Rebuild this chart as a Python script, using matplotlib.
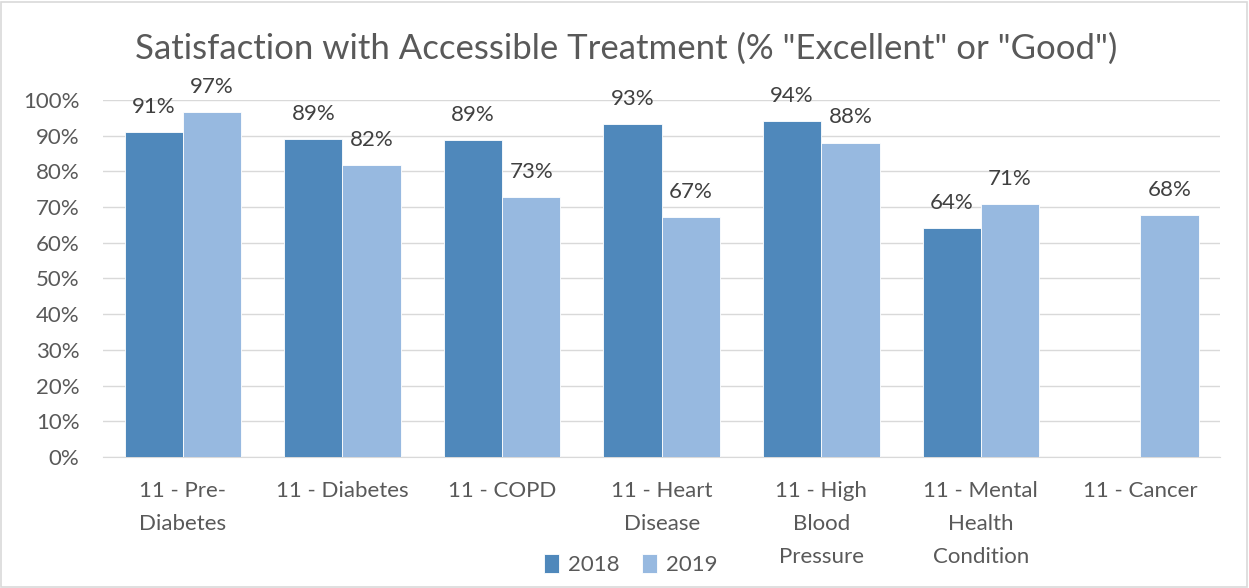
import matplotlib
matplotlib.use("Agg")
import matplotlib.pyplot as plt
from matplotlib.patches import Rectangle
import numpy as np

categories = ["11 - Pre-\nDiabetes", "11 - Diabetes", "11 - COPD", "11 - Heart\nDisease",
              "11 - High\nBlood\nPressure", "11 - Mental\nHealth\nCondition", "11 - Cancer"]
series_names = ["2018", "2019"]
values_2018 = [91.0, 89.1, 88.8, 93.3, 94.1, 64.1, None]
values_2019 = [96.6, 81.8, 72.8, 67.2, 88.0, 70.9, 67.8]
yticks = list(range(0, 101, 10))

colors = ["#4F88BB", "#97B9E0"]
plt.rcParams['font.family'] = ['Lato', 'DejaVu Sans']

fig = plt.figure(figsize=(12.49, 5.88), dpi=100)
ax = fig.add_axes([0.0825, 0.2228, 0.8945, 0.6072])

x = np.arange(len(categories))
w = 0.365
for i, (vals, name, c) in enumerate(zip([values_2018, values_2019], series_names, colors)):
    xs = [xi + (i - 0.5) * w for xi, v in zip(x, vals) if v is not None]
    vs = [v for v in vals if v is not None]
    ax.bar(xs, vs, width=w, color=c, label=name, zorder=3, edgecolor="white", linewidth=0.6)
    for xb, v in zip(xs, vs):
        ax.text(xb, v + 4.3, f"{round(v):.0f}%", ha="center", va="bottom", fontsize=16,
                color="#404040", clip_on=False)

ax.set_xlim(-0.5, len(categories) - 0.5)
ax.set_ylim(0, 100)
ax.set_yticks(yticks)
ax.set_yticklabels([f"{t}%" for t in yticks], fontsize=16, color="#595959")
ax.set_xticks(x)
ax.set_xticklabels(categories, fontsize=16, color="#595959", linespacing=1.82)
ax.tick_params(axis="both", length=0)
ax.tick_params(axis="x", pad=17)
ax.tick_params(axis="y", pad=17)
ax.grid(axis="y", color="#D9D9D9", linewidth=1, zorder=0)
for s in ["top", "right", "left"]:
    ax.spines[s].set_visible(False)
ax.spines["bottom"].set_color("#D9D9D9")

fig.suptitle('Satisfaction with Accessible Treatment (% "Excellent" or "Good")',
             x=0.501, y=0.944, fontsize=25, color="#595959")

leg = fig.legend(loc="lower center", bbox_to_anchor=(0.505, -0.012), ncol=2, frameon=False,
                 fontsize=16, handlelength=0.7, handleheight=0.9, handletextpad=0.4,
                 columnspacing=1.0, labelcolor="#595959")

fig.patches.append(Rectangle((0.001, 0.002), 0.997, 0.995, transform=fig.transFigure,
                             fill=False, edgecolor="#D9D9D9", linewidth=1.2))

fig.savefig("out.png", dpi=100)
